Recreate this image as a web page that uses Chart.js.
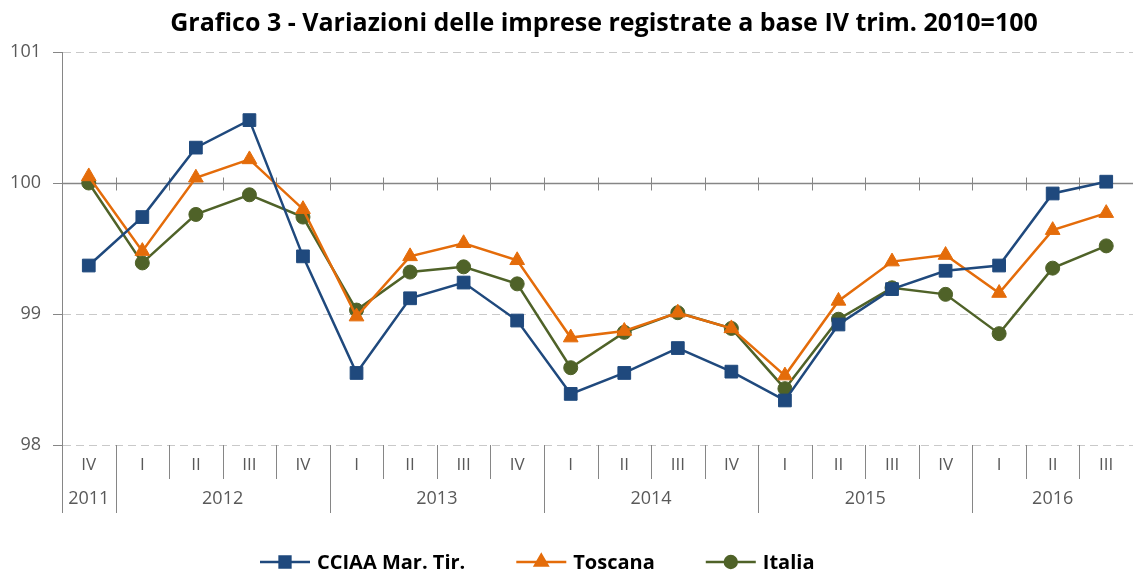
<!DOCTYPE html>
<html>
<head>
<meta charset="utf-8">
<script src="https://cdn.jsdelivr.net/npm/chart.js@4.4.0/dist/chart.umd.min.js"></script>
<style>
  html, body { margin: 0; padding: 0; background: #fff; }
  #wrap { width: 1133px; height: 572px; position: relative; }
</style>
</head>
<body>
<div id="wrap"><canvas id="chart"></canvas></div>
<script>
// Category labels (quarter per point) and year groups
const quarterLabels = ['IV', 'I', 'II', 'III', 'IV', 'I', 'II', 'III', 'IV', 'I', 'II', 'III', 'IV', 'I', 'II', 'III', 'IV', 'I', 'II', 'III'];
const yearLabels = ['2011', '2012', '2013', '2014', '2015', '2016'];
const yearSpans = [1, 4, 4, 4, 4, 3];

// Series values (index, IV trim. 2010 = 100)
const cciaaValues = [99.37, 99.74, 100.27, 100.48, 99.44, 98.55, 99.12, 99.24, 98.95, 98.39, 98.55, 98.74, 98.56, 98.34, 98.92, 99.19, 99.33, 99.37, 99.92, 100.01];
const toscanaValues = [100.05, 99.48, 100.04, 100.18, 99.80, 98.98, 99.44, 99.54, 99.41, 98.82, 98.87, 99.01, 98.89, 98.53, 99.10, 99.40, 99.45, 99.16, 99.64, 99.77];
const italiaValues = [100.00, 99.39, 99.76, 99.91, 99.74, 99.03, 99.32, 99.36, 99.23, 98.59, 98.86, 99.01, 98.89, 98.43, 98.96, 99.20, 99.15, 98.85, 99.35, 99.52];

// Y axis ticks
const yMin = 98;
const yMax = 101;
const yCross = 100; // horizontal axis crosses here

const TITLE = 'Grafico 3 - Variazioni delle imprese registrate a base IV trim. 2010=100';
const FONT = '"Open Sans", Lato, sans-serif';
const AXIS_GREY = '#868686';
const TEXT_GREY = '#595959';

const seriesStyle = [
  { label: 'CCIAA Mar. Tir.', data: cciaaValues, color: '#1F497D', point: 'rect', radius: 9 },
  { label: 'Toscana', data: toscanaValues, color: '#E46C0A', point: 'triangle', radius: 8.5 },
  { label: 'Italia', data: italiaValues, color: '#4F6228', point: 'circle', radius: 7 }
];

// Draws the axis line at 100 with cross ticks, the two-level category labels, title and legend
const decorPlugin = {
  id: 'decor',
  beforeDatasetsDraw(chart) {
    const { ctx, chartArea, scales: { x, y } } = chart;
    const n = quarterLabels.length;
    const step = (x.getPixelForValue(1) - x.getPixelForValue(0));
    const yc = Math.round(y.getPixelForValue(yCross)) + 0.5;

    ctx.save();
    ctx.strokeStyle = AXIS_GREY;
    ctx.lineWidth = 1.4;
    ctx.beginPath();
    ctx.moveTo(chartArea.left, yc);
    ctx.lineTo(chartArea.right, yc);
    ctx.stroke();
    ctx.lineWidth = 1;
    for (let i = 1; i <= n; i++) {
      const bx = Math.round(x.getPixelForValue(i) - step / 2) + 0.5;
      ctx.beginPath();
      ctx.moveTo(bx, yc - 6);
      ctx.lineTo(bx, yc + 7);
      ctx.stroke();
    }
    ctx.restore();
  },
  afterDraw(chart) {
    const { ctx, chartArea, scales: { x } } = chart;
    const n = quarterLabels.length;
    const step = (x.getPixelForValue(1) - x.getPixelForValue(0));
    const bottom = chartArea.bottom;

    ctx.save();
    // title
    ctx.fillStyle = '#000';
    ctx.font = 'bold 25px ' + FONT;
    ctx.textAlign = 'center';
    ctx.textBaseline = 'middle';
    ctx.fillText(TITLE, 604, 24);

    ctx.strokeStyle = AXIS_GREY;
    ctx.lineWidth = 1;
    // quarter and year separators
    const yearStarts = [0];
    yearSpans.forEach((s, i) => yearStarts.push(yearStarts[i] + s));
    for (let i = 0; i <= n; i++) {
      const bx = Math.round(x.getPixelForValue(i) - step / 2) + 0.5;
      const isYear = yearStarts.includes(i);
      ctx.beginPath();
      ctx.moveTo(bx, bottom);
      ctx.lineTo(bx, bottom + (isYear ? 68 : 34));
      ctx.stroke();
    }

    ctx.fillStyle = TEXT_GREY;
    ctx.font = '17px ' + FONT;
    quarterLabels.forEach((q, i) => {
      ctx.fillText(q, x.getPixelForValue(i), bottom + 20);
    });
    ctx.font = '18px ' + FONT;
    yearLabels.forEach((yl, k) => {
      const cx = x.getPixelForValue(yearStarts[k] + (yearSpans[k] - 1) / 2);
      ctx.fillText(yl, cx, bottom + 54);
    });

    // legend
    ctx.font = 'bold 20px ' + FONT;
    ctx.textAlign = 'left';
    const ly = 562;
    let lx = 260;
    seriesStyle.forEach(s => {
      ctx.strokeStyle = s.color;
      ctx.lineWidth = 2.5;
      ctx.beginPath();
      ctx.moveTo(lx, ly);
      ctx.lineTo(lx + 50, ly);
      ctx.stroke();
      ctx.fillStyle = s.color;
      Chart.helpers.drawPoint(ctx, { pointStyle: s.point, radius: s.radius * 0.85, borderWidth: 1, rotation: 0 }, lx + 25, ly);
      ctx.fill();
      ctx.fillStyle = '#000';
      ctx.fillText(s.label, lx + 57, ly + 1);
      lx += 57 + ctx.measureText(s.label).width + 51;
    });
    ctx.restore();
  }
};

const ctx = document.getElementById('chart').getContext('2d');
new Chart(ctx, {
  type: 'line',
  data: {
    labels: quarterLabels,
    datasets: seriesStyle.map(s => ({
      label: s.label,
      data: s.data,
      borderColor: s.color,
      backgroundColor: s.color,
      borderWidth: 2.5,
      pointStyle: s.point,
      pointRadius: s.radius,
      pointBorderWidth: 1,
      pointBorderColor: s.color,
      pointBackgroundColor: s.color,
      tension: 0,
      fill: false
    }))
  },
  options: {
    responsive: true,
    maintainAspectRatio: false,
    animation: false,
    layout: { autoPadding: false, padding: { left: 0, right: 0, top: 52, bottom: 0 } },
    scales: {
      x: {
        type: 'category',
        offset: true,
        grid: { display: false },
        border: { display: false },
        ticks: { display: false },
        afterFit: s => { s.height = 127; }
      },
      y: {
        min: yMin,
        max: yMax,
        ticks: {
          stepSize: 1,
          color: TEXT_GREY,
          font: { family: FONT, size: 18 },
          padding: 12
        },
        grid: {
          color: '#C9C9C9',
          lineWidth: 1,
          tickColor: AXIS_GREY,
          tickLength: 9
        },
        border: { display: true, color: AXIS_GREY, width: 1, dash: [8, 5] },
        afterFit: s => { s.width = 62; }
      }
    },
    plugins: {
      legend: { display: false },
      tooltip: { enabled: false },
      title: { display: false }
    }
  },
  plugins: [decorPlugin]
});
</script>
</body>
</html>
